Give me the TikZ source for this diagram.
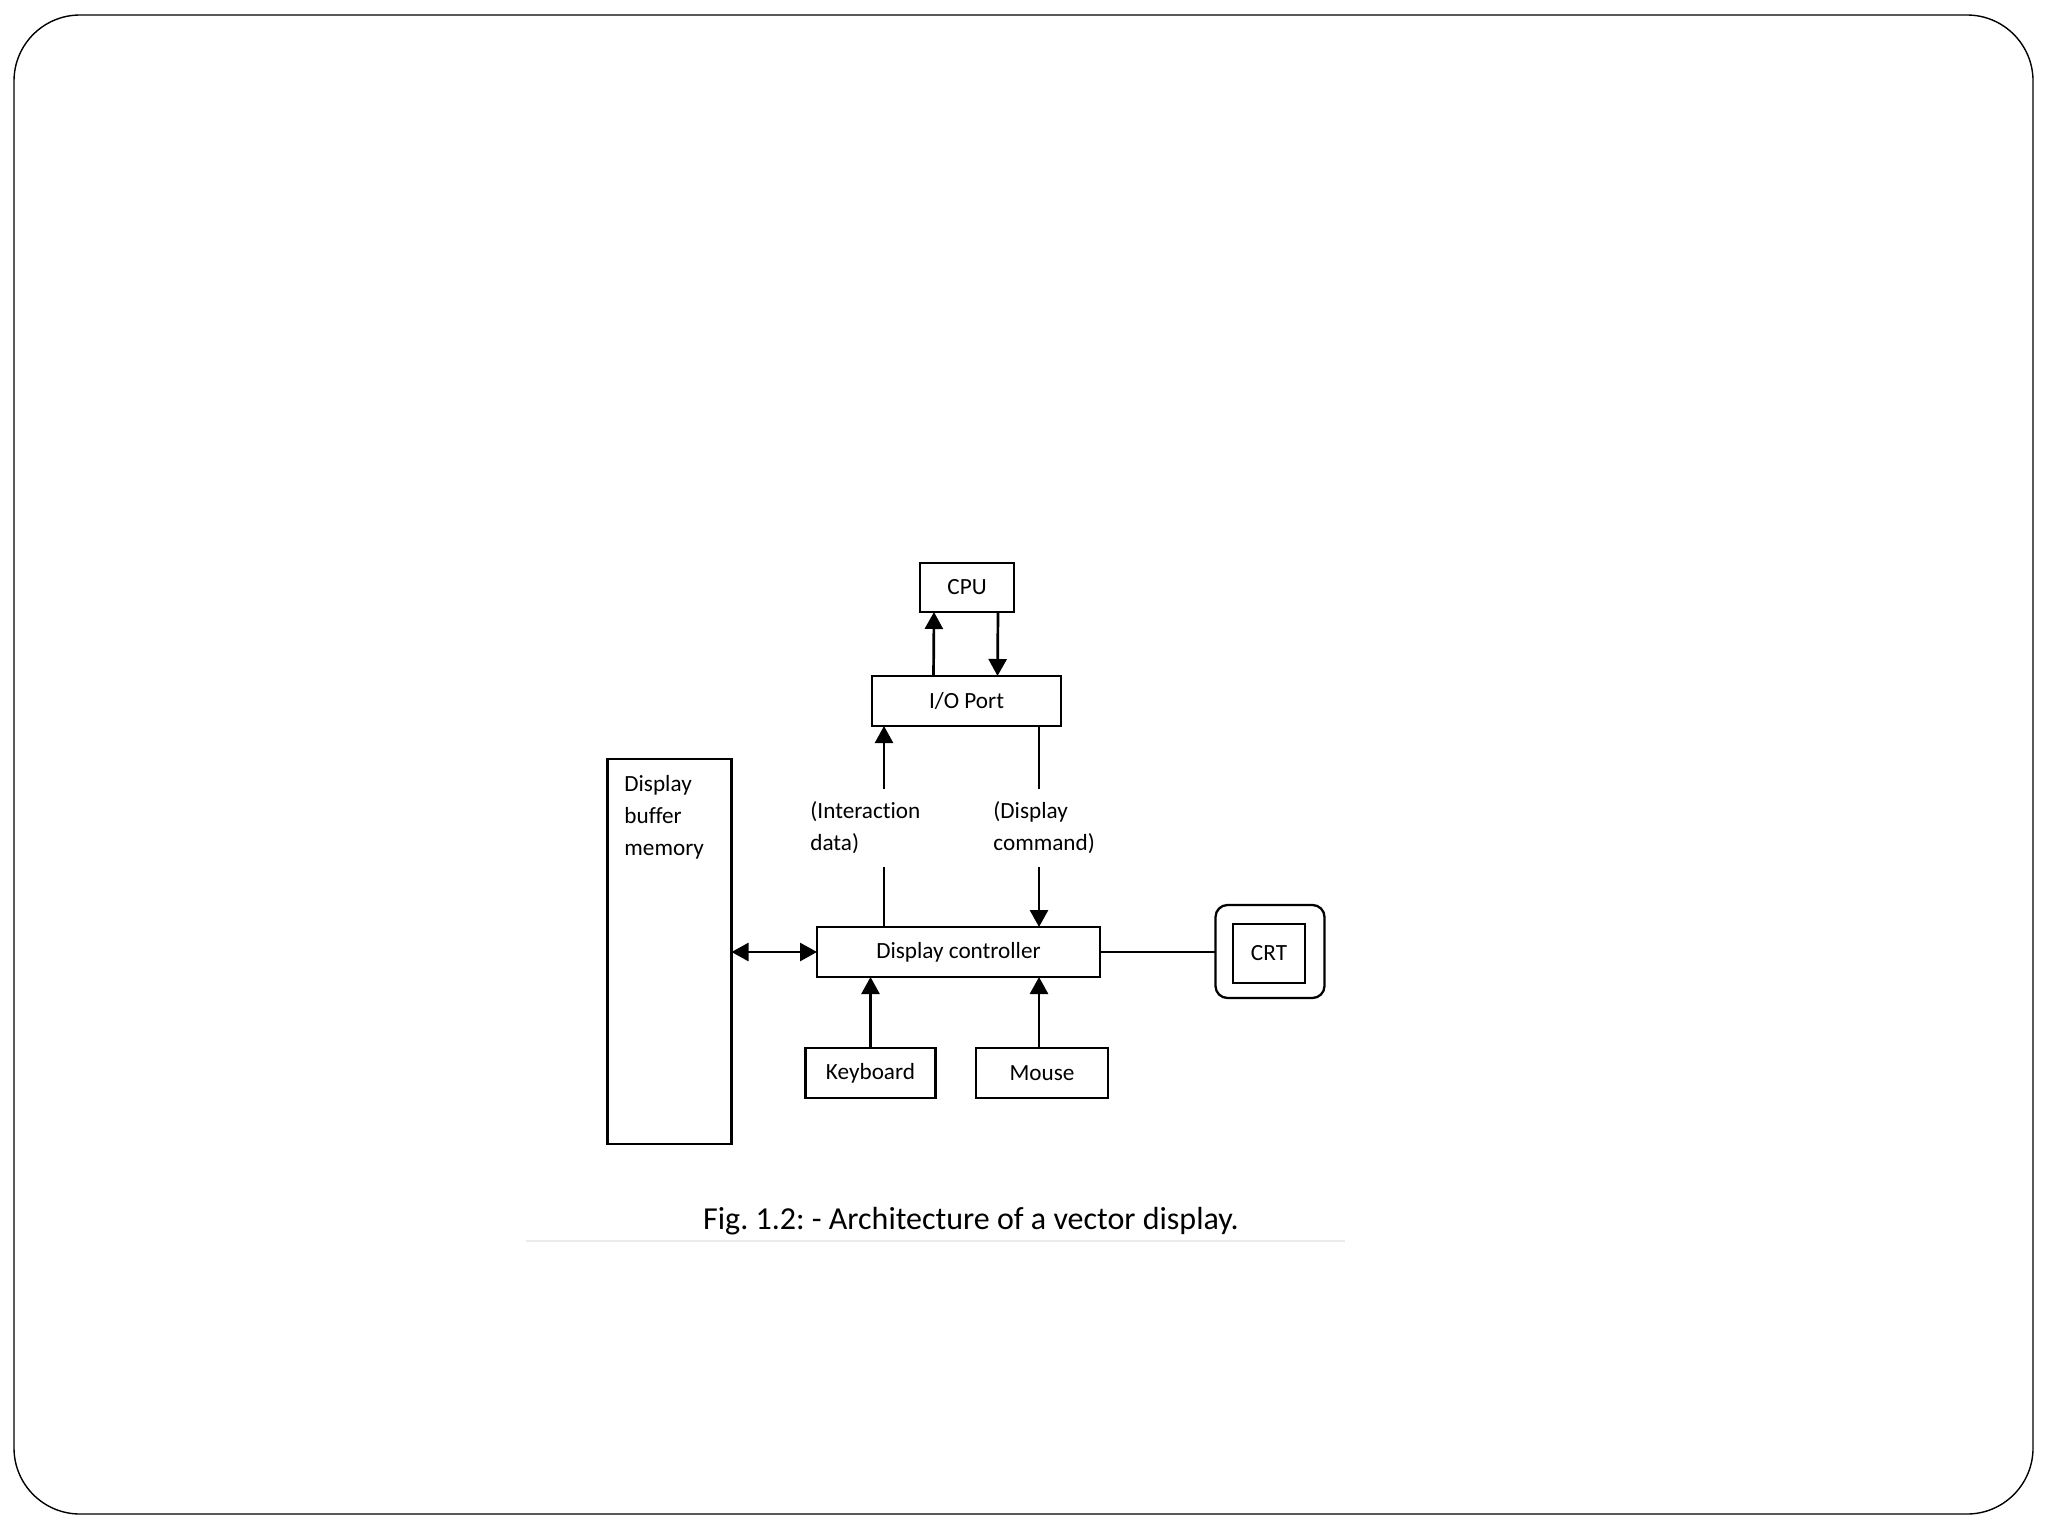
\documentclass[tikz,border=0pt]{standalone}
\usepackage{fontspec}
\setmainfont{Carlito}[Ligatures=NoCommon]
\usepackage{tikz}
\usetikzlibrary{arrows.meta,calc}
\frenchspacing

\begin{document}
\begin{tikzpicture}[x=0.5pt,y=-0.5pt,
  box/.style={draw,line width=1.15pt,inner sep=0pt,outer sep=0pt,font=\fontsize{11.6}{16}\selectfont},
  lbl/.style={inner xsep=0pt,inner ysep=0pt,minimum height=39pt,align=left,anchor=west,font=\fontsize{11.6}{16}\selectfont},
  arr/.style={line width=1.35pt,-{Triangle[length=8.5pt,width=9pt]}}]
  \useasboundingbox (0,0) rectangle (2048,1536);
  % slide frame
  \draw[line width=0.7pt,rounded corners=33pt] (14,15) rectangle (2033,1514);

  % blocks
  \node[box,minimum width=47pt,minimum height=24.5pt] (cpu) at (967,587.5) {CPU};
  \node[box,minimum width=94.5pt,minimum height=25pt] (io) at (966.5,701) {I/O Port};
  \node[box,minimum width=62pt,minimum height=192.5pt] (buf) at (669.5,951.5) {};
  \node[font=\fontsize{11.6}{16}\selectfont,align=left,anchor=north west,inner sep=0pt] (buftxt) at (624,775) {Display\\buffer\\memory};
  \node[box,minimum width=141.5pt,minimum height=25pt] (ctrl) at (958.5,952) {Display controller};
  \node[box,minimum width=65pt,minimum height=25pt] (kbd) at (870.5,1073) {Keyboard};
  \node[box,minimum width=66pt,minimum height=25pt] (mouse) at (1042,1073) {Mouse};
  \node[draw,line width=1.15pt,rounded corners=6pt,minimum width=54.5pt,minimum height=46.5pt,outer sep=0pt] (crt) at (1270,951.5) {};
  \node[box,minimum width=36pt,minimum height=29.5pt] (crtin) at (1269,953.5) {CRT};

  % labels of the two links
  \node[lbl] (ilbl) at (810,828) {(Interaction\\data)};
  \node[lbl] (dlbl) at (993,828) {(Display\\command)};
  \coordinate (ix) at (884,0);
  \coordinate (dx) at (1039,0);

  % connectors
  \draw[arr] ($(io.north)+(-33,0)$) -- ($(cpu.south)+(-33,0)$);
  \draw[arr] ($(cpu.south)+(31,0)$) -- ($(io.north)+(31,0)$);
  \draw[arr] (ilbl.north -| ix) -- (io.south -| ix);
  \draw[line width=1.35pt] (ilbl.south -| ix) -- (ctrl.north -| ix);
  \draw[line width=1.35pt] (io.south -| dx) -- (dlbl.north -| dx);
  \draw[arr] (dlbl.south -| dx) -- (ctrl.north -| dx);
  \draw[arr,{Triangle[length=8.5pt,width=9pt]}-{Triangle[length=8.5pt,width=9pt]}] (buf.east |- ctrl.west) -- (ctrl.west);
  \draw[line width=1.15pt] (ctrl.east) -- (ctrl.east -| crt.west);
  \draw[arr] (kbd.north) -- (kbd.north |- ctrl.south);
  \draw[arr] (mouse.north -| dx) -- (ctrl.south -| dx);

  % caption
  \node[font=\fontsize{16}{19}\selectfont,inner sep=0pt] (cap) at (971,1221) {Fig. 1.2: - Architecture of a vector display.};
  \draw[black!8,line width=0.6pt] (526,1241) -- (1345,1241);
\end{tikzpicture}
\end{document}
